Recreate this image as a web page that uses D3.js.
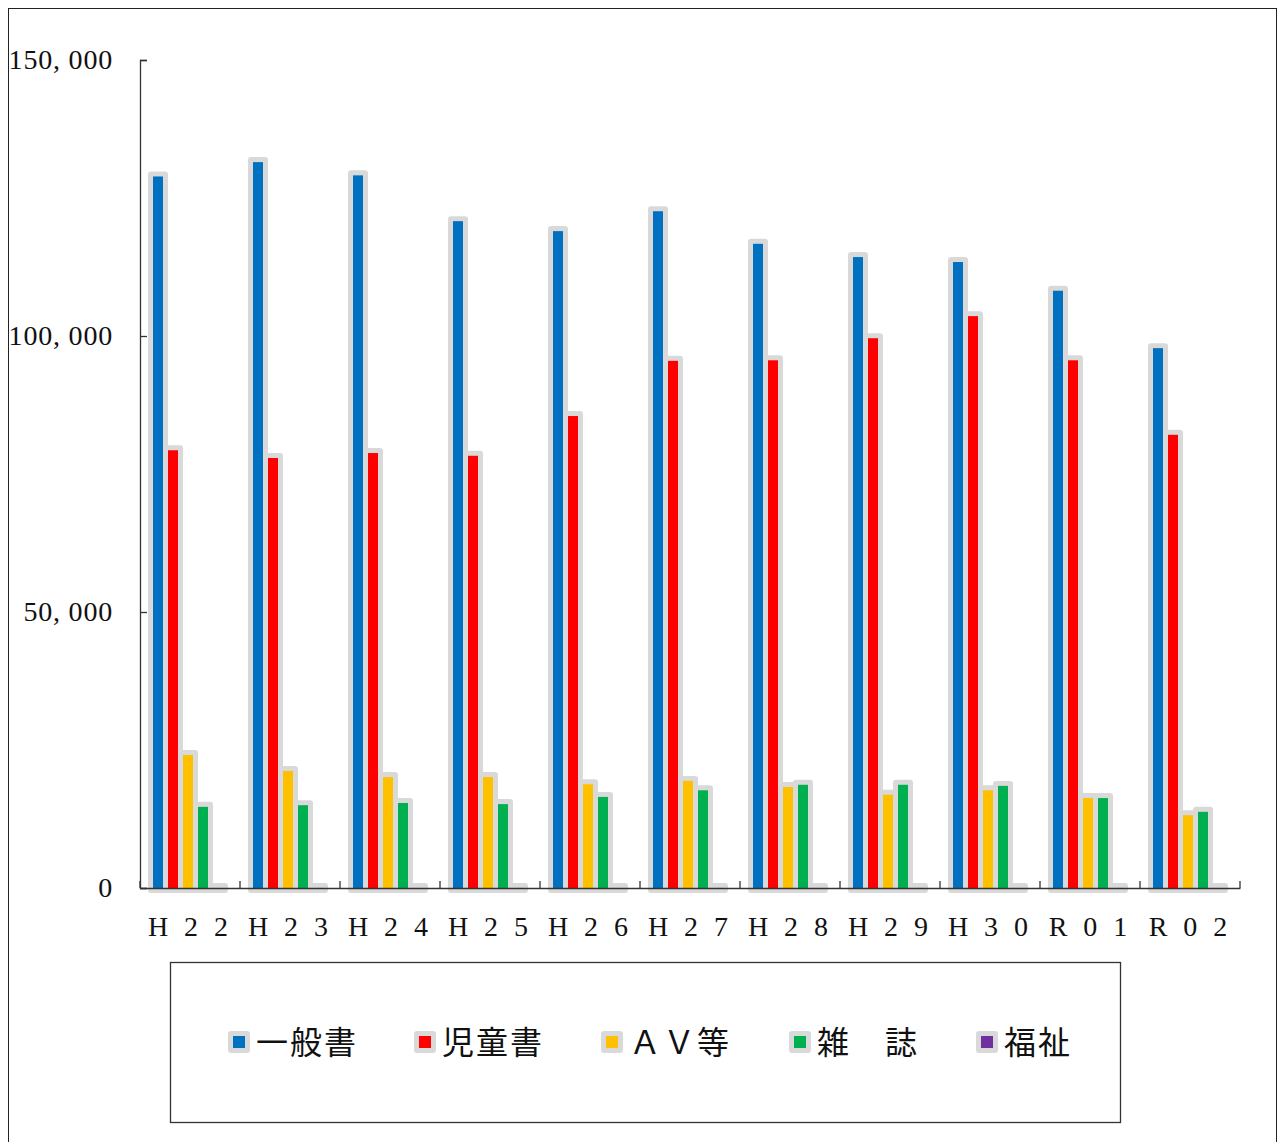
<!DOCTYPE html>
<meta charset="utf-8">
<style>
    body{ margin:0; background:#fff; }
    svg{ display:block; }
</style>
<svg width="1280" height="1142"></svg>
<script src="https://d3js.org/d3.v7.min.js"></script>
<script>
    // 年度
    var years = ["H22","H23","H24","H25","H26","H27","H28","H29","H30","R01","R02"];
    // 系列
    var seriesNames = ["一般書","児童書","ＡＶ等","雑　誌","福祉"];
    var seriesColors = ["#0070c0","#ff0000","#ffc000","#00b050","#7030a0"];
    var ippan  = [128900,131500,129100,120800,119000,122600,116700,114300,113400,108200,97800];
    var jidou  = [79300,77900,78800,78300,85500,95500,95600,99600,103600,95600,82100];
    var av     = [24100,21200,20100,20100,18800,19400,18300,16900,17700,16300,13200];
    var zasshi = [14700,15000,15400,15200,16500,17700,18700,18700,18500,16300,13800];
    var fukushi= [0,0,0,0,0,0,0,0,0,0,0];
    var yTicks = [0,50000,100000,150000];

    var allSeries = [ippan, jidou, av, zasshi, fukushi];

    var svg = d3.select("svg");
    var plotL = 140, plotR = 1240, plotT = 60, plotB = 888;

    // 外枠
    svg.append("rect")
        .attr("x",8.5).attr("y",8.5)
        .attr("width",1268).attr("height",1150)
        .attr("fill","none").attr("stroke","#222").attr("stroke-width",1);

    var x0 = d3.scaleBand().domain(years).range([plotL,plotR]);
    var x1 = d3.scaleBand().domain(d3.range(5)).range([13,88]);
    var y = d3.scaleLinear().domain([0,150000]).range([plotB,plotT]);

    var cellData = [];
    years.forEach(function(yr,i){
        allSeries.forEach(function(s,k){ cellData.push({yr:yr, k:k, v:s[i]}); });
    });

    // 灰色の影枠
    svg.append("g").selectAll("rect")
        .data(cellData)
        .enter().append("rect")
        .attr("x",function(d){ return x0(d.yr)+x1(d.k)-5; })
        .attr("y",function(d){ return y(d.v)-5; })
        .attr("width",20)
        .attr("height",function(d){ return plotB-y(d.v)+10; })
        .attr("rx",3)
        .attr("fill","#d9d9d9");
    svg.append("g").selectAll("rect")
        .data(cellData)
        .enter().append("rect")
        .attr("x",function(d){ return x0(d.yr)+x1(d.k); })
        .attr("y",function(d){ return y(d.v); })
        .attr("width",10)
        .attr("height",function(d){ return plotB-y(d.v); })
        .attr("fill",function(d){ return seriesColors[d.k]; });

    // Y軸
    var yAxis = d3.axisLeft(y).tickValues(yTicks).tickSize(-7).tickPadding(27)
        .tickFormat(function(d){ return d3.format(",")(d).replace(",",", "); });
    var gy = svg.append("g").attr("transform","translate("+plotL+",0)").call(yAxis);
    gy.selectAll("text")
        .attr("font-family","'Liberation Serif', serif")
        .attr("font-size",28).attr("letter-spacing",0.8).attr("fill","#111");
    gy.selectAll("line,path").attr("stroke","#333").attr("stroke-width",1.3);

    // X軸
    var xAxis = d3.axisBottom(x0).tickSize(0).tickPadding(0);
    var gx = svg.append("g").attr("transform","translate(0,"+plotB+")").call(xAxis);
    gx.select("path").attr("stroke","#333").attr("stroke-width",1.3);
    gx.selectAll(".tick").remove();
    var xt = d3.range(years.length+1).map(function(i){ return plotL + i*x0.bandwidth(); });
    gx.selectAll("line.xt").data(xt).enter().append("line")
        .attr("x1",function(d){ return d; }).attr("x2",function(d){ return d; })
        .attr("y1",-7).attr("y2",0)
        .attr("stroke","#333").attr("stroke-width",1.3);
    gx.selectAll("text.xl").data(years).enter().append("text")
        .attr("x",function(d){ return x0(d)+x0.bandwidth()/2+6; })
        .attr("y",48)
        .attr("text-anchor","middle")
        .attr("font-family","'Liberation Serif', serif")
        .attr("font-size",28)
        .attr("letter-spacing",16)
        .attr("fill","#111")
        .text(function(d){ return d; });

    // 凡例
    svg.append("rect")
        .attr("x",170.5).attr("y",962.5)
        .attr("width",950).attr("height",160)
        .attr("fill","none").attr("stroke","#333").attr("stroke-width",1.3);

    var legX = [228,414,601,789,976];
    var leg = svg.selectAll("g.leg")
        .data(seriesNames)
        .enter().append("g")
        .attr("transform",function(d,i){ return "translate("+legX[i]+",1031)"; });
    leg.append("rect").attr("width",22).attr("height",22).attr("rx",3).attr("fill","#d9d9d9");
    leg.append("rect").attr("x",5).attr("y",5).attr("width",12).attr("height",12)
        .attr("fill",function(d,i){ return seriesColors[i]; });
    leg.append("text")
        .attr("x",28).attr("y",23)
        .attr("font-family","'Noto Sans CJK JP', sans-serif")
        .attr("font-size",32)
        .attr("letter-spacing",2)
        .attr("fill","#111")
        .text(function(d){ return d; });
</script>
